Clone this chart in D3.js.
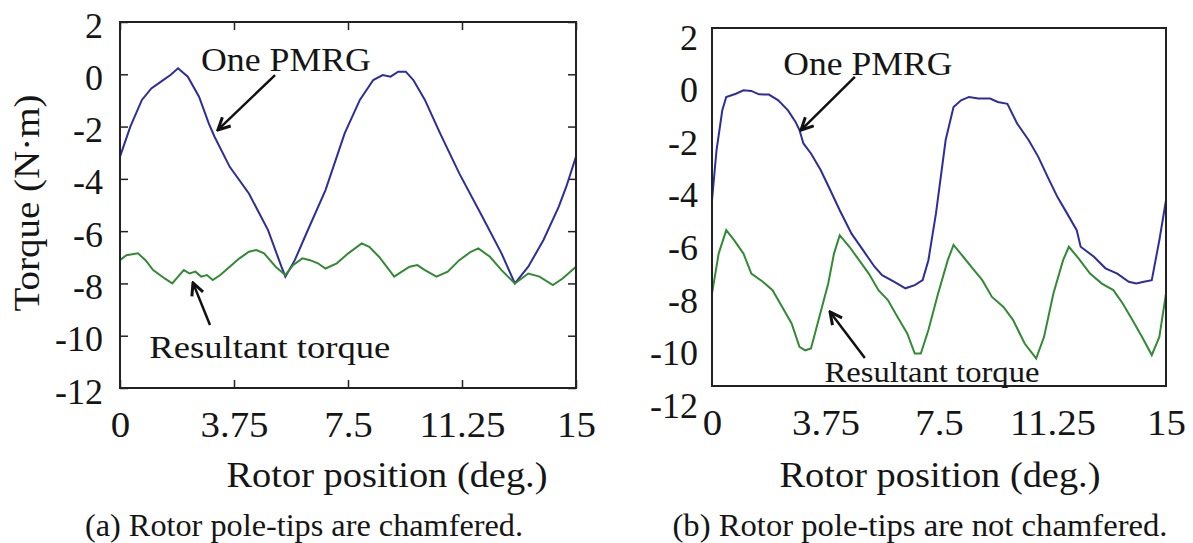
<!DOCTYPE HTML>
<html>
  <head>
    <meta charset="utf-8">
    <style>
    	body { margin: 0px; background: #fff; }
	</style>
  </head>
  <body>
	<script src="https://cdn.jsdelivr.net/npm/d3@7/dist/d3.min.js"></script>
    <script>

		// *** DATA ***
		var xTicks = [0, 3.75, 7.5, 11.25, 15];
		var xTickLabels = ["0", "3.75", "7.5", "11.25", "15"];
		var yTicks = [2, 0, -2, -4, -6, -8, -10, -12];

		// (a) chamfered
		var aPmrgX = [0, 0.34, 0.72, 1.03, 1.35, 1.66, 1.91, 2.23, 2.6, 2.92, 3.11, 3.61, 4.24, 4.87, 5.31, 5.44, 5.75, 6.13, 6.76, 7.39, 7.89, 8.33, 8.64, 8.9, 9.15, 9.4, 9.65, 10.03, 10.53, 11.16, 11.92, 12.55, 12.99, 13.43, 13.93, 14.43, 14.68, 15];
		var aPmrgY = [-3.15, -2.0, -0.98, -0.54, -0.28, -0.03, 0.23, -0.09, -0.86, -1.88, -2.39, -3.54, -4.56, -5.96, -7.36, -7.74, -7.11, -6.09, -4.43, -2.26, -0.98, -0.22, -0.03, -0.09, 0.10, 0.10, -0.22, -0.98, -2.26, -3.79, -5.45, -6.85, -8.0, -7.36, -6.34, -5.07, -4.30, -3.15];
		var aResX = [0, 0.21, 0.59, 0.84, 1.09, 1.47, 1.72, 1.91, 2.10, 2.29, 2.48, 2.67, 2.86, 3.05, 3.30, 3.61, 3.93, 4.24, 4.49, 4.74, 5.12, 5.44, 5.69, 6.0, 6.25, 6.51, 6.76, 7.13, 7.51, 7.95, 8.2, 8.52, 8.77, 9.02, 9.27, 9.53, 9.78, 10.03, 10.41, 10.78, 11.16, 11.54, 11.79, 12.17, 12.55, 12.99, 13.43, 13.80, 14.24, 14.56, 15];
		var aResY = [-7.11, -6.92, -6.85, -7.11, -7.49, -7.81, -8.0, -7.74, -7.49, -7.62, -7.55, -7.74, -7.68, -7.87, -7.68, -7.36, -7.04, -6.79, -6.72, -6.85, -7.36, -7.68, -7.30, -7.04, -7.11, -7.23, -7.43, -7.23, -6.85, -6.47, -6.60, -6.98, -7.36, -7.74, -7.55, -7.36, -7.30, -7.49, -7.74, -7.55, -7.11, -6.79, -6.66, -6.98, -7.49, -8.0, -7.62, -7.74, -8.06, -7.81, -7.36];

		// (b) not chamfered
		var bPmrgX = [0, 0.15, 0.34, 0.47, 0.79, 1.04, 1.30, 1.55, 1.88, 2.19, 2.51, 2.76, 2.89, 3.02, 3.27, 3.59, 3.91, 4.22, 4.61, 4.99, 5.37, 5.62, 6.01, 6.39, 6.70, 6.96, 7.15, 7.40, 7.72, 7.98, 8.23, 8.49, 8.80, 9.19, 9.44, 9.76, 10.08, 10.46, 10.78, 11.09, 11.41, 11.73, 12.05, 12.18, 12.62, 13.0, 13.39, 13.77, 14.02, 14.27, 14.53, 14.78, 15];
		var bPmrgY = [-4.21, -2.30, -0.79, -0.28, -0.16, -0.03, -0.05, -0.18, -0.19, -0.41, -0.79, -1.23, -1.54, -2.05, -2.43, -3.06, -3.83, -4.59, -5.48, -6.11, -6.74, -7.06, -7.31, -7.56, -7.44, -7.25, -6.49, -4.71, -1.92, -0.66, -0.41, -0.28, -0.34, -0.34, -0.47, -0.54, -1.29, -1.92, -2.56, -3.32, -4.08, -4.71, -5.35, -5.98, -6.36, -6.80, -7.00, -7.31, -7.38, -7.31, -7.25, -5.73, -4.21];
		var bResX = [0, 0.22, 0.47, 0.73, 1.04, 1.30, 1.68, 2.0, 2.32, 2.63, 2.89, 3.08, 3.27, 3.52, 3.84, 4.03, 4.22, 4.54, 4.86, 5.18, 5.50, 5.81, 6.13, 6.45, 6.70, 6.90, 7.15, 7.47, 7.79, 7.98, 8.30, 8.61, 8.93, 9.25, 9.63, 9.95, 10.33, 10.71, 10.97, 11.28, 11.60, 11.79, 12.11, 12.49, 12.88, 13.26, 13.57, 13.89, 14.21, 14.53, 14.78, 15];
		var bResY = [-7.76, -6.24, -5.35, -5.73, -6.24, -7.00, -7.31, -7.63, -8.27, -8.90, -9.79, -9.92, -9.85, -8.77, -7.38, -6.24, -5.54, -5.98, -6.49, -7.00, -7.63, -8.01, -8.65, -9.28, -10.04, -10.04, -9.15, -7.76, -6.49, -5.91, -6.36, -6.80, -7.25, -7.89, -8.27, -8.77, -9.66, -10.23, -9.41, -7.76, -6.49, -5.98, -6.42, -7.00, -7.38, -7.63, -8.14, -8.77, -9.41, -10.10, -9.41, -7.76];

		var blue = "#2d2d9c", green = "#338a34";
		var serif = "'Liberation Serif', 'Times New Roman', serif";

		// *** SVG ***
		var svg = d3.select("body").append("svg")
			.attr("width", 1193).attr("height", 543);

		svg.append("defs").append("marker")
			.attr("id", "arr").attr("viewBox", "0 0 10 10")
			.attr("refX", 9).attr("refY", 5)
			.attr("markerWidth", 6).attr("markerHeight", 6)
			.attr("markerUnits", "strokeWidth")
			.attr("orient", "auto")
			.append("path").attr("d", "M1,1 L9,5 L1,9")
			.style("fill", "none").style("stroke", "#111").style("stroke-width", 2);

		function zip(xs, ys){ return xs.map(function(x, i){ return [x, ys[i]]; }); }

		// widen text a little, like the scanned figure
		function stretch(sel, k){
			sel.each(function(){
				var len = this.getComputedTextLength();
				d3.select(this).attr("textLength", len * k).attr("lengthAdjust", "spacingAndGlyphs");
			});
		}

		function label(g, x, y, txt, size, w){
			return g.append("text").attr("x", x).attr("y", y)
				.attr("text-anchor", "middle")
				.style("font-family", serif).style("font-size", size + "px").style("fill", "#151515")
				.attr("textLength", w).attr("lengthAdjust", "spacingAndGlyphs")
				.text(txt);
		}

		function fmtY(d){ return (d < 0 ? "-" : "") + Math.abs(d); }

		function panel(p){
			var g = svg.append("g");
			var x = d3.scaleLinear().domain([0, 15]).range([p.left, p.right]);
			var y = d3.scaleLinear().domain([-12, 2]).range([p.yBottom, p.yTop]);
			var tk = p.ticks ? -8 : 0;

			var gy = g.append("g").attr("transform", "translate(" + p.left + ",0)")
				.call(d3.axisLeft(y).tickValues(yTicks).tickSize(tk).tickPadding(p.yPad).tickFormat(fmtY));
			var gx = g.append("g").attr("transform", "translate(0," + p.boxBottom + ")")
				.call(d3.axisBottom(x).tickValues(xTicks).tickSize(tk).tickPadding(p.xPad)
					.tickFormat(function(d, i){ return xTickLabels[i]; }));
			if(p.ticks){
				g.append("g").attr("transform", "translate(" + p.right + ",0)")
					.call(d3.axisRight(y).tickValues(yTicks).tickSize(-8).tickFormat(""));
				g.append("g").attr("transform", "translate(0," + p.boxTop + ")")
					.call(d3.axisTop(x).tickValues(xTicks).tickSize(-8).tickFormat(""));
			}
			g.selectAll(".domain").remove();
			g.selectAll(".tick line").style("stroke", "#222").style("stroke-width", 1.5);
			g.selectAll(".tick text").style("font-family", serif).style("font-size", "36px").style("fill", "#151515");
			gy.selectAll("text").attr("dy", p.yLabelDy);
			gx.selectAll("text").attr("dy", "0.71em");
			stretch(gx.selectAll("text"), 1.08);

			var line = d3.line().x(function(d){ return x(d[0]); }).y(function(d){ return y(d[1]); });
			g.append("path").datum(zip(p.pmrgX, p.pmrgY)).attr("d", line)
				.style("fill", "none").style("stroke", blue).style("stroke-width", 2);
			g.append("path").datum(zip(p.resX, p.resY)).attr("d", line)
				.style("fill", "none").style("stroke", green).style("stroke-width", 2);

			g.append("rect").attr("x", p.left).attr("y", p.boxTop)
				.attr("width", p.right - p.left).attr("height", p.boxBottom - p.boxTop)
				.style("fill", "none").style("stroke", "#222").style("stroke-width", 2);

			// annotations
			p.notes.forEach(function(n){
				label(g, x(n.tx), y(n.ty), n.text, n.size, n.w).attr("dy", "0.35em");
				g.append("line").attr("x1", x(n.ax[0])).attr("y1", y(n.ay[0]))
					.attr("x2", x(n.ax[1])).attr("y2", y(n.ay[1]))
					.style("stroke", "#111").style("stroke-width", 2.5)
					.attr("marker-end", "url(#arr)");
			});

			label(g, p.titleX, 487, "Rotor position (deg.)", 35, 321);
			label(g, p.capX, 536, p.caption, 31, p.capW);
		}

		panel({
			left: 120, right: 576, boxTop: 22, boxBottom: 388, yTop: 22, yBottom: 388,
			ticks: true, yLabelDy: "0.42em", yPad: 17, xPad: 23,
			pmrgX: aPmrgX, pmrgY: aPmrgY, resX: aResX, resY: aResY,
			notes: [
				{text: "One PMRG", tx: 5.46, ty: 0.55, size: 33, w: 170, ax: [5.1, 3.22], ay: [-0.03, -2.13]},
				{text: "Resultant torque", tx: 4.93, ty: -10.43, size: 32, w: 241, ax: [2.96, 2.4], ay: [-9.59, -7.98]}
			],
			titleX: 387, capX: 304, capW: 438, caption: "(a) Rotor pole-tips are chamfered."
		});

		panel({
			left: 712, right: 1166, boxTop: 28, boxBottom: 386, yTop: 37, yBottom: 405,
			ticks: false, yLabelDy: "0.34em", yPad: 14, xPad: 23,
			pmrgX: bPmrgX, pmrgY: bPmrgY, resX: bResX, resY: bResY,
			notes: [
				{text: "One PMRG", tx: 5.15, ty: 1.01, size: 33, w: 169, ax: [4.72, 2.94], ay: [0.48, -1.54]},
				{text: "Resultant torque", tx: 7.27, ty: -10.74, size: 29, w: 215, ax: [5.05, 3.9], ay: [-10.21, -8.46]}
			],
			titleX: 940, capX: 920, capW: 495, caption: "(b) Rotor pole-tips are not chamfered."
		});

		// y axis title (left panel only)
		label(svg, 0, 0, "Torque (N\u00b7m)", 35, 217)
			.attr("transform", "translate(39,203) rotate(-90)");

	</script>
  </body>
</html>
